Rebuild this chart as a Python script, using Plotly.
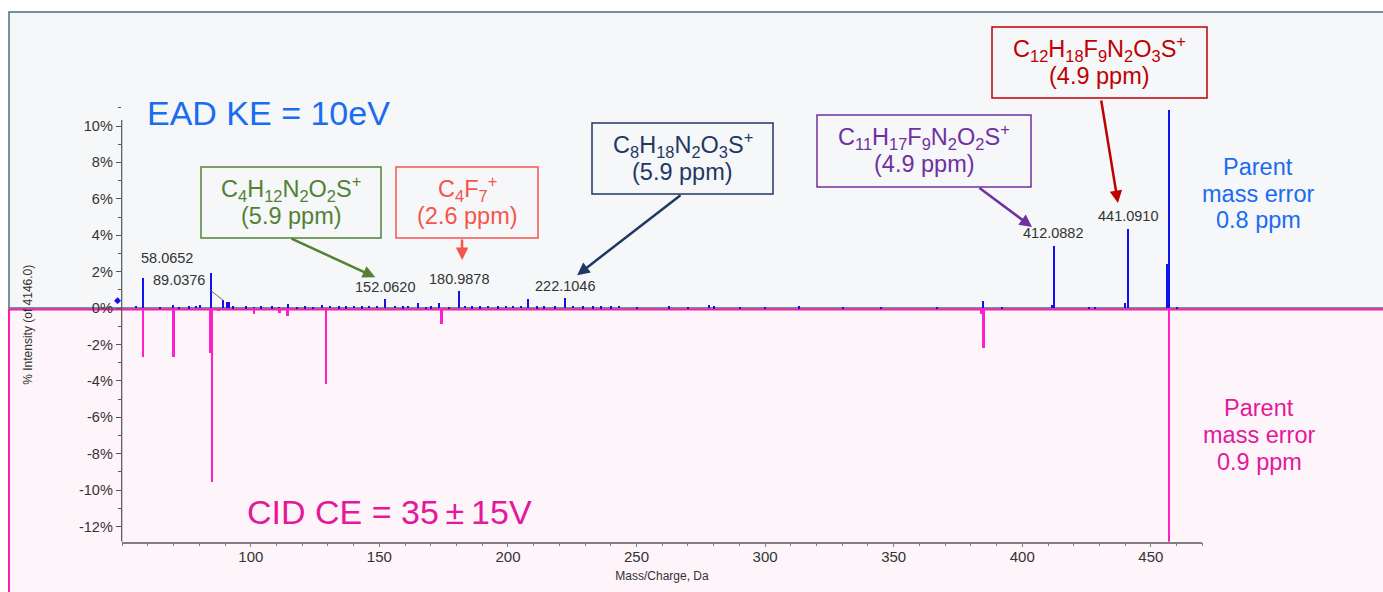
import plotly.graph_objects as go

W, H = 1383, 592
FONT = "Liberation Sans, Arial, sans-serif"

# ---------------- data ----------------
# EAD spectrum (top, positive % intensity)
ead_mz = [55.3, 58.07, 64.5, 69.5, 72.0, 76.0, 78.4, 80.3, 84.5, 89.04, 90.5, 91.5,
          93.0, 97.9, 101.0, 104.0, 108.2, 111.0, 114.4, 118.0, 121.0, 124.0, 127.6,
          130.5, 134.0, 137.0, 140.0, 143.0, 146.0, 149.0, 152.06, 155.9, 159.0, 161.0,
          164.9, 168.0, 170.0, 173.0, 177.0, 180.99, 183.0, 186.0, 189.0, 192.0, 196.0,
          199.0, 202.0, 205.0, 207.7, 211.0, 214.0, 218.0, 222.10, 225.0, 229.0, 233.0,
          236.0, 240.0, 243.0, 250.0, 262.5, 270.0, 278.0, 280.0, 290.0, 300.0, 313.0,
          330.0, 345.0, 366.8, 384.7, 392.0, 411.5, 412.09, 426.0, 428.0, 439.9, 441.09,
          456.1, 457.0, 460.0]
ead_int = [0.15, 1.65, 0.08, 0.2, 0.05, 0.1, 0.15, 0.2, 1.95, 0.45, 0.35, 0.35,
           0.1, 0.1, 0.08, 0.1, 0.1, 0.08, 0.25, 0.08, 0.1, 0.08, 0.2,
           0.15, 0.1, 0.1, 0.12, 0.1, 0.12, 0.15, 0.5, 0.15, 0.1, 0.12,
           0.3, 0.08, 0.1, 0.3, 0.08, 0.95, 0.12, 0.1, 0.1, 0.12, 0.1,
           0.12, 0.15, 0.15, 0.5, 0.1, 0.1, 0.1, 0.55, 0.12, 0.1, 0.1,
           0.1, 0.1, 0.15, 0.05, 0.1, 0.05, 0.2, 0.1, 0.05, 0.05, 0.1,
           0.05, 0.05, 0.08, 0.4, 0.05, 0.2, 3.4, 0.08, 0.08, 0.3, 4.33,
           2.42, 10.9, 0.05]

# CID spectrum (bottom, drawn as negative % intensity)
cid_mz = [58.07, 69.8, 84.0, 84.8, 87.3, 101.0, 111.1, 114.2, 129.2, 174.0, 351.7,
          383.9, 384.8, 456.9]
cid_int = [-2.67, -2.67, -2.45, -9.55, -0.15, -0.33, -0.27, -0.42, -4.14, -0.85, -0.1,
           -0.3, -2.16, -13.5]

# labelled peaks (EAD)
label_mz = [58.07, 89.04, 152.06, 180.99, 222.10, 412.09, 441.09]
label_text = ["58.0652", "89.0376", "152.0620", "180.9878", "222.1046", "412.0882", "441.0910"]
label_dx = [24, -44, 0, 0, 0, 0, 0]     # pixel offsets of the label text
label_dy = [10, 10, 2, 2, 2, 3, 3]

# fragment formula callouts (formula line, error line)
frag_formula = [
    "C<sub>4</sub>H<sub>12</sub>N<sub>2</sub>O<sub>2</sub>S<sup>+</sup>",
    "C<sub>4</sub>F<sub>7</sub><sup>+</sup>",
    "C<sub>8</sub>H<sub>18</sub>N<sub>2</sub>O<sub>3</sub>S<sup>+</sup>",
    "C<sub>11</sub>H<sub>17</sub>F<sub>9</sub>N<sub>2</sub>O<sub>2</sub>S<sup>+</sup>",
    "C<sub>12</sub>H<sub>18</sub>F<sub>9</sub>N<sub>2</sub>O<sub>3</sub>S<sup>+</sup>",
]
frag_error = ["(5.9 ppm)", "(2.6 ppm)", "(5.9 ppm)", "(4.9 ppm)", "(4.9 ppm)"]
frag_color = ["#548235", "#f5564c", "#1f3864", "#7030a0", "#c00000"]
# arrow targets (data coords)
frag_tip_mz = [148.4, 182.2, 226.9, 403.8, 437.2]
frag_tip_int = [1.70, 2.64, 1.81, 4.45, 5.77]

x_ticks = [100, 150, 200, 250, 300, 350, 400, 450]
y_ticks = [-12, -10, -8, -6, -4, -2, 0, 2, 4, 6, 8, 10]
y_tick_text = ["-12%", "-10%", "-8%", "-6%", "-4%", "-2%", "0%", "2%", "4%", "6%", "8%", "10%"]

parent_ead = ["Parent", "mass error", "0.8 ppm"]
parent_cid = ["Parent", "mass error", "0.9 ppm"]

# ---------------- layout helpers (pixel -> paper) ----------------
def px(x):
    return x / W

def py(y):
    return 1 - y / H

X0, X1 = 121.7, 1202.3   # plot area in pixels
Y0, Y1 = 107.8, 541.7
XR = [49.8, 470.0]
YR = [-12.83, 11.0]

BLUE_T = "#1a6cf0"
MAG_T = "#e4189c"

fig = go.Figure()
fig.add_trace(go.Bar(x=ead_mz, y=ead_int, width=0.8, name="EAD",
                     marker=dict(color="#1010f2", line=dict(width=0))))
fig.add_trace(go.Bar(x=cid_mz, y=cid_int, width=0.9, name="CID",
                     marker=dict(color="#ff1ecb", line=dict(width=0))))

shapes = [
    dict(type="rect", xref="paper", yref="paper", x0=px(9), x1=1.02, y0=py(308), y1=py(12),
         fillcolor="#f5f7f9", line=dict(color="#46707f", width=1.5), layer="below"),
    dict(type="rect", xref="paper", yref="paper", x0=px(9), x1=1.02, y0=-0.02, y1=py(309.5),
         fillcolor="#fdf5fa", line=dict(color="#ff1aa8", width=2), layer="below"),
    # y axis line
    dict(type="line", xref="paper", yref="y", x0=px(X0), x1=px(X0), y0=YR[0], y1=10.33,
         line=dict(color="#555555", width=1.2)),
]

ann = []
ann.append(dict(text="EAD KE = 10eV", xref="paper", yref="paper", x=px(145), y=py(112.5),
                xanchor="left", yanchor="middle", showarrow=False,
                font=dict(family=FONT, size=34, color=BLUE_T)))
ann.append(dict(text="CID CE = 35\u2009±\u200915V", xref="paper", yref="paper", x=px(245),
                y=py(511.5), xanchor="left", yanchor="middle", showarrow=False,
                font=dict(family=FONT, size=34, color=MAG_T)))
for txt, yy in zip(parent_ead, [167, 194, 220]):
    ann.append(dict(text=txt, xref="paper", yref="paper", x=px(1258), y=py(yy),
                    xanchor="center", yanchor="middle", showarrow=False,
                    font=dict(family=FONT, size=23.5, color=BLUE_T)))
for txt, yy in zip(parent_cid, [408, 435, 462]):
    ann.append(dict(text=txt, xref="paper", yref="paper", x=px(1259), y=py(yy),
                    xanchor="center", yanchor="middle", showarrow=False,
                    font=dict(family=FONT, size=23.5, color=MAG_T)))

# peak labels
for m, t, dx, dy in zip(label_mz, label_text, label_dx, label_dy):
    yv = ead_int[ead_mz.index(m)]
    ann.append(dict(text=t, x=m, y=yv, xref="x", yref="y", xanchor="center", yanchor="bottom",
                    xshift=dx, yshift=dy, showarrow=False,
                    font=dict(family=FONT, size=14.5, color="#333333")))
# leader for 89.0376
ann.append(dict(text="", x=89.04, y=0.45, xref="x", yref="y", ax=-14, ay=-11,
                showarrow=True, arrowhead=0, arrowwidth=1, arrowcolor="#666666"))

# callout boxes (pixel boxes: left, top, right, bottom)
boxes = [(201, 167, 381, 238), (396, 167, 538, 238), (592, 123, 773, 194),
         (817, 115, 1031, 187), (992, 27, 1207, 98)]
tails = [(290, 238), (462, 238), (682, 194), (978, 187), (1101, 99)]
for (l, t, r, b), f1, f2, col in zip(boxes, frag_formula, frag_error, frag_color):
    shapes.append(dict(type="rect", xref="paper", yref="paper", x0=px(l), x1=px(r),
                       y0=py(b), y1=py(t), line=dict(color=col, width=1.5)))
    cx = px((l + r) / 2)
    cy = (t + b) / 2
    ann.append(dict(text=f1, xref="paper", yref="paper", x=cx, y=py(cy - 14), xanchor="center",
                    yanchor="middle", showarrow=False, font=dict(family=FONT, size=23.5, color=col)))
    ann.append(dict(text=f2, xref="paper", yref="paper", x=cx, y=py(cy + 13), xanchor="center",
                    yanchor="middle", showarrow=False, font=dict(family=FONT, size=23.5, color=col)))

# arrows: tail pixel -> tip in data coords
def to_px(m, v):
    xp = X0 + (m - XR[0]) / (XR[1] - XR[0]) * (X1 - X0)
    yp = Y1 - (v - YR[0]) / (YR[1] - YR[0]) * (Y1 - Y0)
    return xp, yp

for m, v, (tx, ty), col in zip(frag_tip_mz, frag_tip_int, tails, frag_color):
    xp, yp = to_px(m, v)
    ann.append(dict(text="", x=m, y=v, xref="x", yref="y", ax=tx - xp, ay=ty - yp,
                    showarrow=True, arrowhead=2, arrowsize=1.0, arrowwidth=2.5,
                    arrowcolor=col, standoff=0))

# small precursor marker at left
ann.append(dict(text="◆", xref="paper", yref="paper", x=px(117), y=py(300),
                xanchor="center", yanchor="middle", showarrow=False,
                font=dict(family=FONT, size=9, color="#1010f2")))

fig.update_layout(
    width=W, height=H, margin=dict(l=0, r=0, t=0, b=0),
    paper_bgcolor="white", plot_bgcolor="rgba(0,0,0,0)",
    barmode="overlay", bargap=0, showlegend=False,
    shapes=shapes, annotations=ann,
    font=dict(family=FONT, color="#333333"),
    xaxis=dict(domain=[px(X0), px(X1)], range=XR, showline=True, linecolor="#808080",
               linewidth=1.5, ticks="outside", ticklen=4, tickcolor="#808080",
               tickvals=x_ticks, showgrid=False, zeroline=False, ticklabelstandoff=-3,
               minor=dict(tick0=0, dtick=10, ticks="outside", ticklen=3, tickcolor="#808080"),
               tickfont=dict(family=FONT, size=15, color="#333333"),
               title=dict(text="Mass/Charge, Da", font=dict(family=FONT, size=12, color="#333333"),
                          standoff=7)),
    yaxis=dict(domain=[py(Y1), py(Y0)], range=YR, showline=False, ticks="outside", ticklen=5,
               tickcolor="#555555", tickvals=y_ticks, ticktext=y_tick_text,
               showgrid=False, zeroline=False,
               minor=dict(tick0=0, dtick=1, ticks="outside", ticklen=3, tickcolor="#555555"),
               tickfont=dict(family=FONT, size=14.5, color="#333333"),
               title=dict(text="% Intensity (of 4146.0)",
                          font=dict(family=FONT, size=12, color="#333333"), standoff=43)),
)

fig.write_html("out.html")
